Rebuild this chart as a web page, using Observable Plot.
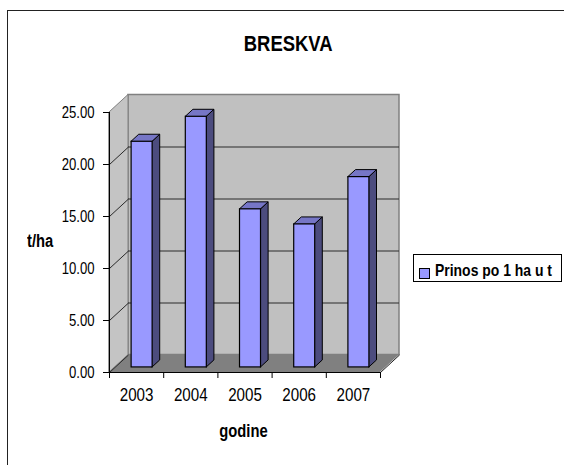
<!DOCTYPE html>
<html>
<head>
<meta charset="utf-8">
<script src="https://cdn.jsdelivr.net/npm/d3@7"></script>
<script src="https://cdn.jsdelivr.net/npm/@observablehq/plot@0.6"></script>
<style>
  html, body { margin: 0; padding: 0; background: #fff; }
  #wrap { position: relative; width: 564px; height: 465px; overflow: hidden;
    font-family: 'Liberation Sans', Arial, sans-serif; color: #000; }
  #frame { position: absolute; left: 7px; top: 10px; width: 620px; height: 520px; border-left: 1.5px solid #222; border-top: 1.5px solid #222; }
  .lbl { position: absolute; white-space: nowrap; line-height: 1; }
  .lbl span { display: inline-block; transform: scaleX(0.82); }
  .left span { transform-origin: 0 50%; }
  .center span { transform-origin: 50% 50%; }
  #chart { position: absolute; left: 0; top: 0; }
  #legend { position: absolute; left: 413px; top: 254px; width: 147px; height: 26px; border: 1px solid #000; background: #fff; }
  #swatch { position: absolute; left: 5px; top: 13px; width: 9px; height: 9px; border: 1px solid #000; background: #9999ff; }
</style>
</head>
<body>
<div id="wrap">
  <div id="frame"></div>
  <div id="chart"></div>
  <div class="lbl center" style="font-weight:bold;font-size:22.5px;left:0;width:577px;text-align:center;top:33px;"><span>BRESKVA</span></div>
  <div class="lbl left" style="font-weight:bold;font-size:18px;left:27px;top:232px;"><span>t/ha</span></div>
  <div class="lbl center" style="font-weight:bold;font-size:18px;left:0;width:487px;text-align:center;top:422px;"><span>godine</span></div>
  <div id="legend"><div id="swatch"></div><div class="lbl left" style="font-weight:bold;font-size:17px;left:21px;top:7px;"><span id="legtext"></span></div></div>
</div>
<script>
// ---- data ----
const years = [2003, 2004, 2005, 2006, 2007];
const yields = [21.7, 24.1, 15.2, 13.75, 18.3];
const yTicks = [0, 5, 10, 15, 20, 25];
const gridValues = [5, 10, 15, 20];
const seriesName = "Prinos po 1 ha u t";
document.getElementById("legtext").textContent = seriesName;

// ---- layout (pixels) ----
const W = 564, H = 465;
const mL = 109, mR = 184, mT = 112, mB = 93;
const xMin = years[0] - 0.5, xMax = years[years.length - 1] + 0.5;
const yMax = 25;
const kx = (W - mL - mR) / (xMax - xMin);   // px per x unit
const ky = (H - mT - mB) / yMax;            // px per y unit
const depthPx = [19, 17.5];                 // full floor depth offset
const dxu = depthPx[0] / kx, dyu = depthPx[1] / ky;
const barPx = 21;
const bw = barPx / kx;
const z0 = 0.29, z1 = 0.69;                 // bar depth span

const bars = years.map((yr, i) => ({year: yr, v: yields[i], l: yr - bw / 2, r: yr + bw / 2}));
const boundaries = years.map(y => y - 0.5).concat([xMax]);

const sidePts = bars.flatMap(b => [
  {k: b.year, x: b.r + z0 * dxu, y1: z0 * dyu, y2: b.v + z0 * dyu},
  {k: b.year, x: b.r + z1 * dxu, y1: z1 * dyu, y2: b.v + z1 * dyu}
]);
const topPts = bars.flatMap(b => [
  {k: b.year, y: b.v + z0 * dyu, x1: b.l + z0 * dxu, x2: b.r + z0 * dxu},
  {k: b.year, y: b.v + z1 * dyu, x1: b.l + z1 * dxu, x2: b.r + z1 * dxu}
]);

const FONT = "'Liberation Sans', Arial, sans-serif";

const plot = Plot.plot({
  width: W, height: H,
  marginLeft: mL, marginRight: mR, marginTop: mT, marginBottom: mB,
  style: {background: "transparent", fontFamily: FONT, color: "#000", overflow: "visible"},
  x: {type: "linear", domain: [xMin, xMax], label: null, axis: null},
  y: {domain: [0, yMax], label: null, axis: null},
  marks: [
    // back wall
    Plot.rect([0], {x1: xMin + dxu, x2: xMax + dxu, y1: dyu, y2: yMax + dyu, fill: "#c0c0c0", stroke: "#808080", strokeWidth: 1.5}),
    // left wall
    Plot.areaY([{x: xMin, y1: 0, y2: yMax}, {x: xMin + dxu, y1: dyu, y2: yMax + dyu}], {x: "x", y1: "y1", y2: "y2", fill: "#c4c4c4", stroke: "#808080", strokeWidth: 1}),
    // floor
    Plot.areaX([{y: 0, x1: xMin, x2: xMax}, {y: dyu, x1: xMin + dxu, x2: xMax + dxu}], {y: "y", x1: "x1", x2: "x2", fill: "#808080"}),
    // gridlines on back wall and left wall
    Plot.ruleY(gridValues, {y: d => d + dyu, x1: xMin + dxu, x2: xMax + dxu, stroke: "#2a2a2a", strokeWidth: 1}),
    Plot.link(gridValues.concat([0]), {x1: xMin, y1: d => d, x2: xMin + dxu, y2: d => d + dyu, stroke: "#2a2a2a", strokeWidth: 1}),
    // right floor edge
    Plot.link([0], {x1: xMax, y1: 0, x2: xMax + dxu, y2: dyu, stroke: "#222", strokeWidth: 1}),
    // bars: side, top, front
    Plot.areaY(sidePts, {x: "x", y1: "y1", y2: "y2", z: "k", fill: "#4c4c7e", stroke: "#000", strokeWidth: 1}),
    Plot.areaX(topPts, {y: "y", x1: "x1", x2: "x2", z: "k", fill: "#7676c6", stroke: "#000", strokeWidth: 1}),
    Plot.rect(bars, {x1: d => d.l + z0 * dxu, x2: d => d.r + z0 * dxu, y1: z0 * dyu, y2: d => d.v + z0 * dyu, fill: "#9999ff", stroke: "#000", strokeWidth: 1.2, title: d => `${d.year}: ${d.v}`}),
    // front axes lines
    Plot.ruleX([xMin], {y1: 0, y2: yMax, stroke: "#000", strokeWidth: 1}),
    Plot.ruleY([0], {x1: xMin, x2: xMax, stroke: "#000", strokeWidth: 1}),
    // y ticks and labels
    Plot.axisY({ticks: yTicks, tickSize: 6, tickFormat: () => "", stroke: "#000", label: null}),
    Plot.text(yTicks, {x: xMin, y: d => d, text: d => d.toFixed(2), textAnchor: "end", dx: -15, fontSize: 16, fill: "#000"}),
    // x ticks and labels
    Plot.axisX({ticks: boundaries, tickSize: 6, tickFormat: () => "", stroke: "#000", label: null}),
    Plot.text(years, {x: d => d, y: 0, text: d => String(d), lineAnchor: "top", dy: 15, fontSize: 18.5, fill: "#000"})
  ]
});
// condense the label glyphs horizontally (narrow typeface look)
const S = 0.82;
plot.querySelectorAll("text").forEach(el => {
  const x = +(el.getAttribute("x") || 0);
  const t = el.getAttribute("transform") || "";
  el.setAttribute("transform", `${t} translate(${x},0) scale(${S},1) translate(${-x},0)`);
});
document.getElementById("chart").appendChild(plot);
</script>
</body>
</html>
